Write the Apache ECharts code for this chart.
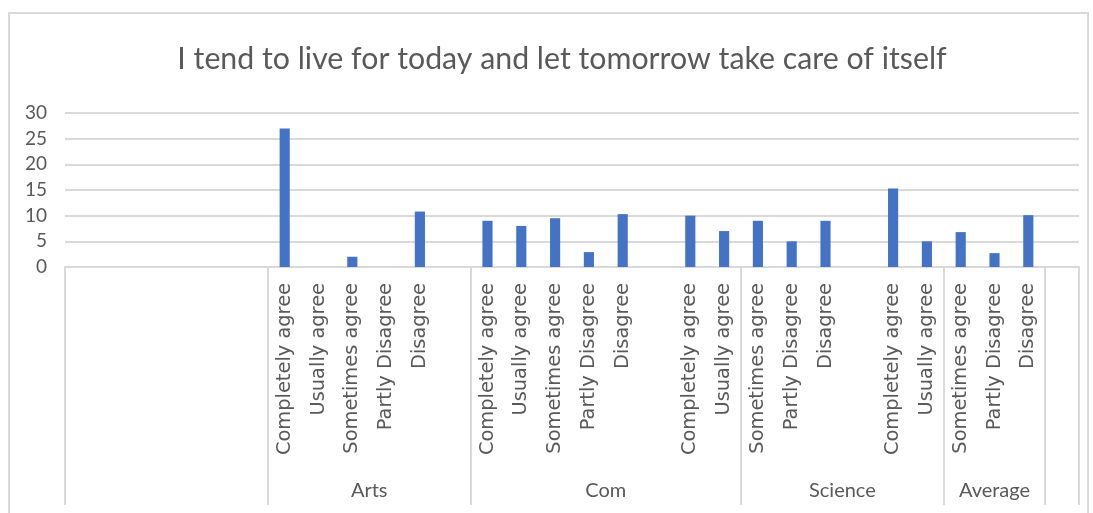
<!DOCTYPE html>
<html>
<head>
<meta charset="utf-8">
<title>I tend to live for today and let tomorrow take care of itself</title>
<script src="https://cdn.jsdelivr.net/npm/echarts@6/dist/echarts.min.js"></script>
<style>
  html, body { margin: 0; padding: 0; background: #ffffff; }
  #frame {
    position: absolute; left: 8px; top: 12px; width: 1081px; height: 520px;
    border: 2px solid #d9d9d9; box-sizing: border-box;
  }
  #chart { position: absolute; left: 0; top: 0; width: 1093px; height: 513px; }
</style>
</head>
<body>
<div id="frame"></div>
<div id="chart"></div>
<script>
// Survey answers, one bar per response within each faculty block
const responses = ['Completely agree', 'Usually agree', 'Sometimes agree', 'Partly Disagree', 'Disagree'];
const arts    = [27, 0, 2, 0, 10.8];
const com     = [9, 8, 9.5, 2.9, 10.3];
const science = [10, 7, 9, 5, 9];
const average = [15.3, 5, 6.8, 2.7, 10.1];

// Second-level category labels and how many slots each one spans
const groupNames = ['', 'Arts', 'Com', 'Science', 'Average', ''];
const groupSpans = [6, 6, 8, 6, 3, 1];

// Value axis ticks
const yTicks = [0, 5, 10, 15, 20, 25, 30];

const leadingBlanks = 6;
const blocks = [arts, com, science, average];

// Flatten into one category list: leading blanks, then each block followed by a gap
const categories = [];
const values = [];
for (let i = 0; i < leadingBlanks; i++) { categories.push(''); values.push(null); }
blocks.forEach(block => {
  block.forEach((v, i) => { categories.push(responses[i]); values.push(v); });
  categories.push(''); values.push(null);
});

const slotCount = categories.length;
const boundaries = [0];
const centers = [];
let acc = 0;
groupSpans.forEach(span => { centers.push(acc + span / 2); acc += span; boundaries.push(acc); });
const labelByCenter = {};
centers.forEach((c, i) => { labelByCenter[c] = groupNames[i]; });

const textColor = '#595959';
const lineColor = '#d9d9d9';

const chart = echarts.init(document.getElementById('chart'), null, { renderer: 'canvas' });
chart.setOption({
  animation: false,
  backgroundColor: 'transparent',
  title: {
    text: 'I tend to live for today and let tomorrow take care of itself',
    left: 557, top: 39, textAlign: 'center',
    textStyle: { fontFamily: 'Lato', fontWeight: 'normal', fontSize: 30.3, color: textColor }
  },
  grid: { left: 65, right: 14, top: 113, bottom: 246, containLabel: false },
  xAxis: [
    {
      type: 'category',
      data: categories,
      boundaryGap: true,
      axisLine: { show: false },
      axisTick: { show: false },
      axisLabel: {
        interval: 0, rotate: 90, margin: 16,
        color: textColor, fontFamily: 'DejaVu Sans', fontSize: 19.4
      }
    },
    {
      type: 'value',
      min: 0, max: slotCount,
      position: 'bottom',
      splitLine: { show: false },
      axisLine: { show: true, lineStyle: { color: lineColor, width: 2 } },
      axisTick: {
        show: true, inside: false, length: 238,
        customValues: boundaries,
        lineStyle: { color: lineColor, width: 2 }
      },
      axisLabel: {
        show: true, margin: 214,
        customValues: centers,
        formatter: v => labelByCenter[v] || '',
        color: textColor, fontFamily: 'Lato', fontSize: 20
      }
    }
  ],
  yAxis: {
    type: 'value',
    min: yTicks[0], max: yTicks[yTicks.length - 1], interval: yTicks[1] - yTicks[0],
    axisLine: { show: false },
    axisTick: { show: false },
    splitLine: { lineStyle: { color: lineColor, width: 2 } },
    axisLabel: { margin: 18, color: textColor, fontFamily: 'Lato', fontSize: 19 }
  },
  series: [{
    type: 'bar',
    xAxisIndex: 0,
    data: values,
    barWidth: '30%',
    itemStyle: { color: '#4472C4' }
  }]
});
</script>
</body>
</html>
